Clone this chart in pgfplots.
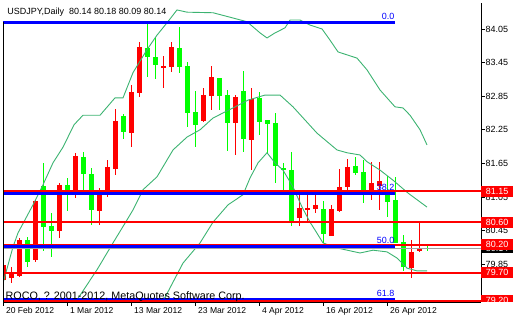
\documentclass[border=0pt]{standalone}
\usepackage{pgfplots}
\pgfplotsset{compat=1.18}
\usepackage{pgfplotstable}
\usepackage{fontspec}
\setmainfont{Liberation Sans}

\definecolor{cRed}{RGB}{255,0,0}
\definecolor{cGreen}{RGB}{0,255,0}
\definecolor{band}{RGB}{60,179,113}
\definecolor{fib}{RGB}{0,0,255}
\definecolor{curline}{RGB}{160,160,160}

% i open high low close  (red = rising candles)
\pgfplotstableread{
i o h l c
0 79.57 79.87 79.39 79.84
1 79.60 79.80 79.51 79.71
2 79.64 80.32 79.62 80.28
4 79.93 81.00 79.89 80.98
7 80.44 81.30 80.32 81.27
9 81.12 81.84 81.03 81.78
12 80.80 81.21 80.55 81.12
13 81.14 81.71 81.05 81.59
14 81.55 82.62 81.44 82.41
16 82.19 83.05 81.94 82.93
17 82.91 83.82 82.84 83.73
20 83.35 83.57 83.00 83.39
21 83.37 83.82 83.28 83.73
25 82.41 83.00 82.39 82.87
26 82.85 83.39 82.60 83.19
29 82.37 82.87 81.80 82.84
31 82.07 83.00 81.53 82.80
37 80.67 81.09 80.53 80.85
38 80.82 81.09 80.59 80.85
39 80.84 81.10 80.77 80.91
41 80.35 80.91 80.35 80.84
42 80.80 81.55 80.78 81.23
43 81.23 81.73 81.14 81.59
46 81.16 81.68 81.00 81.30
47 81.25 81.68 80.82 81.34
51 79.78 80.28 79.60 80.07
52 80.09 80.59 80.07 80.12
}\upbars

% green = falling candles
\pgfplotstableread{
i o h l c
3 80.28 80.34 79.80 79.89
5 81.25 81.66 80.09 80.51
6 80.53 80.77 79.98 80.44
8 81.27 81.39 80.80 81.09
10 81.77 81.85 81.14 81.46
11 81.46 81.57 80.55 80.82
15 82.50 82.53 82.09 82.21
18 83.71 84.14 83.19 83.55
19 83.55 83.91 83.16 83.41
22 83.71 84.09 83.26 83.37
23 83.39 83.46 82.30 82.55
24 82.57 82.94 81.94 82.34
27 83.18 83.18 82.60 82.85
28 82.87 82.96 81.87 82.37
30 82.94 83.30 81.85 82.09
32 82.82 82.93 82.16 82.39
33 82.43 82.43 81.84 82.35
34 82.37 82.55 81.30 81.60
35 81.57 81.66 81.14 81.53
36 81.53 81.85 80.53 80.62
40 80.84 80.98 80.23 80.39
44 81.60 81.77 81.44 81.48
45 81.50 81.71 80.94 81.16
48 81.14 81.43 80.69 80.96
49 81.00 81.41 80.23 80.23
50 80.25 80.37 79.73 79.80
53 80.14 80.18 80.09 80.14
}\downbars

\pgfplotsset{
  wick/.style={draw=none, no markers, forget plot,
    error bars/.cd, y dir=both, y explicit, error mark=none,
    error bar style={draw=#1, line width=1bp}},
  body/.style={draw=none, no markers, forget plot,
    error bars/.cd, y dir=both, y explicit, error mark=none,
    error bar style={draw=#1, line width=5bp}},
}
\tikzset{pricebox/.style={fill=#1, text=white, anchor=west, inner sep=0pt,
    minimum width=32bp, minimum height=11bp, font=\fontsize{9}{10}\selectfont}}

\begin{document}
\begin{tikzpicture}
\path[use as bounding box] (-3bp,-18bp) rectangle (517bp,302bp);
\begin{axis}[
  name=main, at={(0,0)}, anchor=south west,
  scale only axis, width=478bp, height=299bp,
  xmin=-0.05, xmax=59.7, ymin=79.175, ymax=84.514,
  clip mode=individual,
  axis x line*=bottom, axis y line*=right,
  axis line style={black, line width=0.8bp, -},
  tick align=outside, major tick length=3.5bp,
  tick style={black, line width=0.8bp},
  xtick={0,8,16,24,32,40,48},
  xticklabels={20 Feb 2012,1 Mar 2012,13 Mar 2012,23 Mar 2012,4 Apr 2012,16 Apr 2012,26 Apr 2012},
  xticklabel style={anchor=north west, font=\fontsize{8.6}{10}\selectfont, inner sep=0pt, xshift=2.5bp, yshift=-1.5bp},
  ytick={79.85,80.45,81.05,81.65,82.25,82.85,83.45,84.05},
  yticklabel style={font=\fontsize{9}{10}\selectfont, inner sep=1bp,
    /pgf/number format/.cd, fixed, fixed zerofill, precision=2},
  /pgf/number format/assume math mode=true,
]
% wicks
\addplot[wick=cRed] table[x=i, y expr={(\thisrow{h}+\thisrow{l})/2}, y error expr={(\thisrow{h}-\thisrow{l})/2}] {\upbars};
\addplot[wick=cGreen] table[x=i, y expr={(\thisrow{h}+\thisrow{l})/2}, y error expr={(\thisrow{h}-\thisrow{l})/2}] {\downbars};
% bodies
\addplot[body=cRed] table[x=i, y expr={(\thisrow{o}+\thisrow{c})/2}, y error expr={max(abs(\thisrow{c}-\thisrow{o})/2,0.009)}] {\upbars};
\addplot[body=cGreen] table[x=i, y expr={(\thisrow{o}+\thisrow{c})/2}, y error expr={max(abs(\thisrow{c}-\thisrow{o})/2,0.009)}] {\downbars};

% bands
\addplot[band, line width=0.9bp, mark=none] coordinates {
(-0.05,79.51) (1.2,80.16) (1.83,80.41) (3.7,80.91) (4.83,81.23) (6.2,81.66) (7.45,81.94)
(8.83,82.34) (9.95,82.51) (12.08,82.51) (13.95,82.82) (14.95,82.82) (16.2,83.27)
(17.95,83.68) (19.2,83.94) (20.45,84.16) (21.7,84.39) (22.95,84.35) (26.2,84.34)
(28.33,84.26) (30.45,84.18) (32.08,83.98) (32.95,83.89) (33.95,83.98) (35.2,84.07)
(35.83,84.21) (37.08,84.21) (38.33,84.12) (39.83,84.05) (40.83,83.85) (41.83,83.64)
(44.2,83.53) (45.45,83.32) (47.08,82.96) (48.95,82.66) (49.95,82.64) (50.83,82.51)
(52.08,82.25) (52.95,81.98)};
\addplot[band, line width=0.9bp, mark=none] coordinates {
(8.95,79.16) (11.7,79.75) (13.7,80.23) (15.45,80.64) (16.2,80.82) (17.45,81.18)
(19.2,81.41) (21.2,81.89) (22.95,82.12) (24.58,82.25) (26.2,82.46) (28.7,82.64)
(30.58,82.78) (32.7,82.87) (34.58,82.87) (36.2,82.66) (39.2,82.19) (41.7,81.89)
(42.95,81.84) (44.58,81.80) (45.45,81.68) (47.08,81.53) (48.7,81.35) (50.58,81.12)
(52.95,80.87)};
\addplot[band, line width=0.9bp, mark=none] coordinates {
(19.7,79.12) (22.45,79.87) (24.58,80.23) (26.2,80.60) (28.08,80.91) (29.95,81.09)
(30.83,81.39) (31.83,81.66) (32.95,81.84) (33.95,81.66) (34.95,81.53) (36.2,81.23)
(37.33,80.87) (38.33,80.60) (38.95,80.46) (39.95,80.23) (41.7,80.14) (44.58,80.05)
(46.2,80.10) (47.95,80.07) (49.2,79.96) (50.45,79.78) (51.7,79.73) (52.95,79.73)};

% current price line
\addplot[curline, line width=0.8bp, mark=none] coordinates {(-1,80.14) (61,80.14)};
% horizontal levels
\addplot[cRed, line width=2bp, mark=none] coordinates {(-1,81.15) (61,81.15)};
\addplot[cRed, line width=2bp, mark=none] coordinates {(-1,80.60) (61,80.60)};
\addplot[cRed, line width=2bp, mark=none] coordinates {(-1,80.20) (61,80.20)};
\addplot[cRed, line width=2bp, mark=none] coordinates {(-1,79.70) (61,79.70)};
\addplot[cRed, line width=2bp, mark=none] coordinates {(-1,79.20) (61,79.20)};
% fibonacci levels
\addplot[fib, line width=2.6bp, mark=none] coordinates {(-1,84.17) (49,84.17)};
\addplot[fib, line width=2.6bp, mark=none] coordinates {(-1,81.114) (49,81.114)};
\addplot[fib, line width=2.6bp, mark=none] coordinates {(-1,80.17) (49,80.17)};
\addplot[fib, line width=2.6bp, mark=none] coordinates {(-1,79.226) (49,79.226)};

\begin{scope}[every node/.style={anchor=base east, text=fib, inner sep=0pt, yshift=2.5bp, font=\fontsize{9}{10}\selectfont}]
\node at (axis cs:48.9,84.17) {0.0};
\node at (axis cs:48.9,81.114) {38.2};
\node at (axis cs:48.9,80.17) {50.0};
\node at (axis cs:48.9,79.226) {61.8};
\end{scope}

% left frame
\draw[black, line width=0.8bp] (axis cs:-0.05,79.175) -- (axis cs:-0.05,84.17);

% price boxes
\node[pricebox=black] at (axis cs:59.7,80.14) {80.14};
\node[pricebox=cRed] at (axis cs:59.7,81.15) {81.15};
\node[pricebox=cRed] at (axis cs:59.7,80.60) {80.60};
\node[pricebox=cRed] at (axis cs:59.7,80.20) {80.20};
\node[pricebox=cRed] at (axis cs:59.7,79.70) {79.70};
\coordinate (b7920) at (axis cs:59.7,79.20);
\end{axis}
\begin{scope}
\clip (main.south east) rectangle ++(40bp,30bp);
\node[pricebox=cRed] at (b7920) {79.20};
\end{scope}
\node[anchor=base west, inner sep=0pt, font=\fontsize{9}{10}\selectfont] at (4.3bp,287.7bp)
  {USDJPY,Daily\ \ 80.14 80.18 80.09 80.14};
\node[anchor=base west, inner sep=0pt, font=\fontsize{10.8}{12}\selectfont] at (2.5bp,3bp)
  {ROCO, ? 2001-2012, MetaQuotes Software Corp.};
\end{tikzpicture}
\end{document}
